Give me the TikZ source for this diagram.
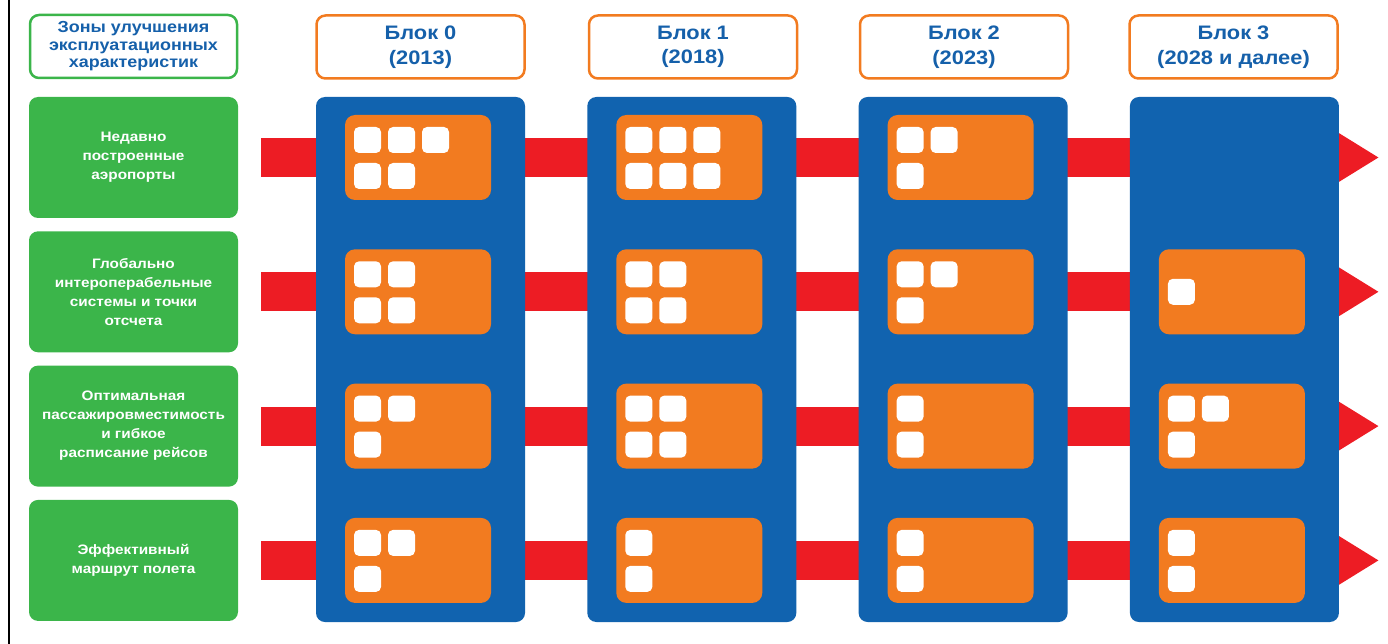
\documentclass[tikz,border=0pt]{standalone}
\usepackage{fontspec}
\setmainfont[FakeStretch=1.12]{Liberation Sans}
\usetikzlibrary{arrows.meta}
\definecolor{blueC}{RGB}{17,99,175}
\definecolor{orangeC}{RGB}{242,123,32}
\definecolor{redC}{RGB}{237,28,36}
\definecolor{greenC}{RGB}{59,181,74}
\definecolor{textC}{RGB}{21,96,170}
\begin{document}
\begin{tikzpicture}[x=1pt,y=-1pt,
  zone/.style={fill=greenC, rounded corners=9pt, minimum width=209pt, minimum height=121pt, inner sep=0pt,
    text=white, align=center, font=\bfseries\fontsize{13.7}{19}\selectfont},
  zonehead/.style={draw=greenC, line width=2.5pt, fill=white, rounded corners=9pt, minimum width=207pt, minimum height=63pt, inner sep=0pt,
    text=textC, align=center, font=\bfseries\fontsize{16}{17.5}\selectfont},
  blockhead/.style={draw=orangeC, line width=2.5pt, fill=white, rounded corners=9pt, minimum width=208pt, minimum height=63pt, inner sep=0pt,
    text=textC, align=center, font=\bfseries\fontsize{19.5}{24.5}\selectfont},
  column/.style={fill=blueC, rounded corners=9pt, minimum width=209pt, minimum height=525pt, inner sep=0pt},
  obox/.style={fill=orangeC, rounded corners=10pt, minimum width=146pt, minimum height=85pt, inner sep=0pt},
  sq/.style={fill=white, rounded corners=5pt, minimum width=27pt, minimum height=26pt, inner sep=0pt},
  bar/.style={draw=redC, line width=39pt, -{Triangle[length=42pt,width=48pt]}}
]
\useasboundingbox (0,0) rectangle (1388,644);
% left border line
\coordinate (L1) at (9,0);
\coordinate (L2) at (9,644);
\draw[line width=1.3pt] (L1) -- (L2);

% header
\node[zonehead] (zh) at (133.5,46.5) {Зоны улучшения\\эксплуатационных\\характеристик};

% zone boxes
\node[zone] (z0) at (133.5,157.5) {Недавно\\построенные\\аэропорты};
\node[zone] (z1) at (133.5,291.8) {Глобально\\интероперабельные\\системы и точки\\отсчета};
\node[zone] (z2) at (133.5,426.1) {Оптимальная\\пассажировместимость\\и гибкое\\расписание рейсов};
\node[zone] (z3) at (133.5,560.4) {Эффективный\\маршрут полета};

% red bars
\foreach \r in {0,1,2,3}{
  \pgfmathsetmacro\yc{157.5+134.3*\r}
  \coordinate (a\r) at (261,\yc);
  \coordinate (t\r) at (1379,\yc);
  \draw[bar] (a\r) -- (t\r);
}

% block headers and columns
\node[blockhead] (h0) at (420.5,47) {Блок 0\\(2013)};
\node[blockhead] (h1) at (693,47) {Блок 1\\(2018)};
\node[blockhead] (h2) at (964,47) {Блок 2\\(2023)};
\node[blockhead] (h3) at (1233.5,47) {Блок 3\\(2028 и далее)};
\foreach \c in {0,1,2,3}{
  \pgfmathsetmacro\xl{316+271.3*\c}
  \node[column] (col\c) at (\xl+104.5,359.5) {};
}

% orange boxes with squares
\foreach \c/\r/\t/\b in {0/0/3/2,1/0/3/3,2/0/2/1,0/1/2/2,1/1/2/2,2/1/2/1,3/1/1/0,0/2/2/1,1/2/2/2,2/2/1/1,3/2/2/1,0/3/2/1,1/3/1/1,2/3/1/1,3/3/1/1}{
  \pgfmathsetmacro\xl{316+271.3*\c}
  \pgfmathsetmacro\yc{157.5+134.3*\r}
  \node[obox] (o\c\r) at (\xl+102,\yc) {};
  \ifnum\b=0
    \foreach \i in {1,...,\t}{
      \node[sq] (s\c\r a\i) at (\xl+51.5+34*\i-34,\yc) {};
    }
  \else
    \foreach \i in {1,...,\t}{
      \node[sq] (s\c\r a\i) at (\xl+51.5+34*\i-34,\yc-17.5) {};
    }
    \foreach \i in {1,...,\b}{
      \node[sq] (s\c\r b\i) at (\xl+51.5+34*\i-34,\yc+18.5) {};
    }
  \fi
}
\end{tikzpicture}
\end{document}
